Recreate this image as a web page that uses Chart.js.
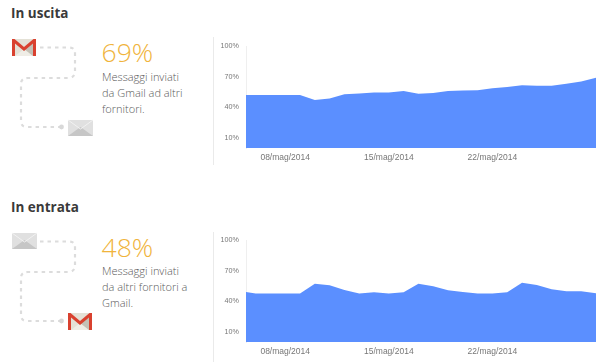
<!DOCTYPE html>
<html><head><meta charset="utf-8">
<script src="https://cdn.jsdelivr.net/npm/chart.js@4"></script>
<style>
html,body{margin:0;padding:0;background:#fff;width:600px;height:362px;overflow:hidden}
.t{position:absolute;white-space:nowrap}
.h{left:11px;font:700 13.5px "Open Sans",sans-serif;color:#3a3a3a;line-height:18px}
.p{left:101.5px;font:300 26.5px "Open Sans",sans-serif;color:#f0b43c;line-height:32px}
.d{left:102px;font:300 11px "Open Sans",sans-serif;color:#5a5a5a;line-height:16px}
.sep{position:absolute;left:213px;width:1px;background:#eaeaea}
canvas{position:absolute}
.wrap{position:absolute;left:213px;width:387px;height:128px}
svg{position:absolute;left:0;top:0}
</style></head><body>
<svg width="213" height="362" viewBox="0 0 213 362">
<defs>
<g id="gm"><rect x="0" y="1" width="24" height="17" fill="#e4e1d6"/><path d="M12 11 L21 4 V18 H16Z" fill="#c4c1b6"/><path d="M3 18 L12 11 L21 18Z" fill="#efede6"/><path d="M0 1H2.5L12 9L21.5 1H24V18H21V5.5L12 13L3 5.5V18H0Z" fill="#d9412f"/></g>
<g id="env"><rect width="25" height="16" fill="#e0e0e0"/><path d="M0 16L12.5 7L25 16Z" fill="#c6c6c6"/><path d="M0 0L12.5 9L25 0" fill="none" stroke="#f2f2f2" stroke-width="1"/></g>
<path id="pa" d="M40 47.5H69Q75 47.5 75 53V71Q75 78 68 78H28Q21 78 21 84V121Q21 127 27 127H61" fill="none" stroke="#dcdcdc" stroke-width="2.2" stroke-dasharray="3.5 4"/>
</defs>
<use href="#gm" x="12" y="38"/><use href="#pa"/><circle cx="61.5" cy="127" r="2.4" fill="#d8d8d8"/><use href="#env" x="68" y="120"/>
<use href="#env" x="12" y="233"/><use href="#pa" y="194"/><circle cx="61.5" cy="321" r="2.4" fill="#d8d8d8"/><use href="#gm" x="68" y="312"/>
</svg>
<div class="t h" style="top:4px">In uscita</div>
<div class="t p" style="top:36px">69%</div>
<div class="t d" style="top:69px">Messaggi inviati<br>da Gmail ad altri<br>fornitori.</div>
<div class="t h" style="top:198px">In entrata</div>
<div class="t p" style="top:231px">48%</div>
<div class="t d" style="top:263px">Messaggi inviati<br>da altri fornitori a<br>Gmail.</div>
<div class="sep" style="top:37px;height:128px"></div>
<div class="sep" style="top:232px;height:130px"></div>
<div class="wrap" style="top:36px"><canvas id="c1" width="387" height="128"></canvas></div>
<div class="wrap" style="top:230px"><canvas id="c2" width="387" height="128"></canvas></div>
<script>
const days = [5,6,7,8,9,10,11,12,13,14,15,16,17,18,19,20,21,22,23,24,25,26,27,28,29];
const uscita = [52,52,52,52,52,47,48.6,52.8,53.5,54.5,54.5,55.8,53.2,54,55.8,56.4,56.7,58.7,59.7,61.6,61,61,63,65.3,68.9];
const entrata = [50,47.5,47.5,47.5,47.5,57,55.7,51,47.5,48.8,47.5,48.8,57,54.7,50.7,49,47.5,47.5,48.8,58,56,51.7,49.8,49.8,47.8];
const tickDays = [8,15,22];
const tickLabels = ["08/mag/2014","15/mag/2014","22/mag/2014"];
const yTicks = [10,40,70,100];
const xMin = 5.35, xMax = 29;
function draw(id, values){
  new Chart(document.getElementById(id),{
    type:'line',
    data:{datasets:[{data:days.map((d,i)=>({x:d,y:values[i]})),backgroundColor:'#5b8fff',borderWidth:0,pointRadius:0,fill:'origin',tension:0}]},
    options:{
      responsive:false,animation:false,
      layout:{padding:{top:10,right:4,left:0,bottom:0}},
      plugins:{legend:{display:false},tooltip:{enabled:false}},
      scales:{
        x:{type:'linear',min:xMin,max:xMax,
          grid:{display:false,drawTicks:false},border:{display:false},
          afterBuildTicks:s=>{s.ticks=tickDays.map(v=>({value:v}))},
          afterFit:s=>{s.height=16},
          ticks:{autoSkip:false,maxRotation:0,padding:5,color:'#777',font:{family:'Liberation Sans',size:8.5},
            callback:v=>tickLabels[tickDays.indexOf(v)]}},
        y:{min:0,max:100,
          grid:{display:false,tickLength:7},border:{display:true,color:'#efefef'},
          afterBuildTicks:s=>{s.ticks=yTicks.map(v=>({value:v}))},
          afterFit:s=>{s.width=33},
          ticks:{padding:0,color:'#777',font:{family:'Liberation Sans',size:7.2},callback:v=>v+'%'}}
      }
    }
  });
}
draw('c1',uscita);
draw('c2',entrata);
</script>
</body></html>
